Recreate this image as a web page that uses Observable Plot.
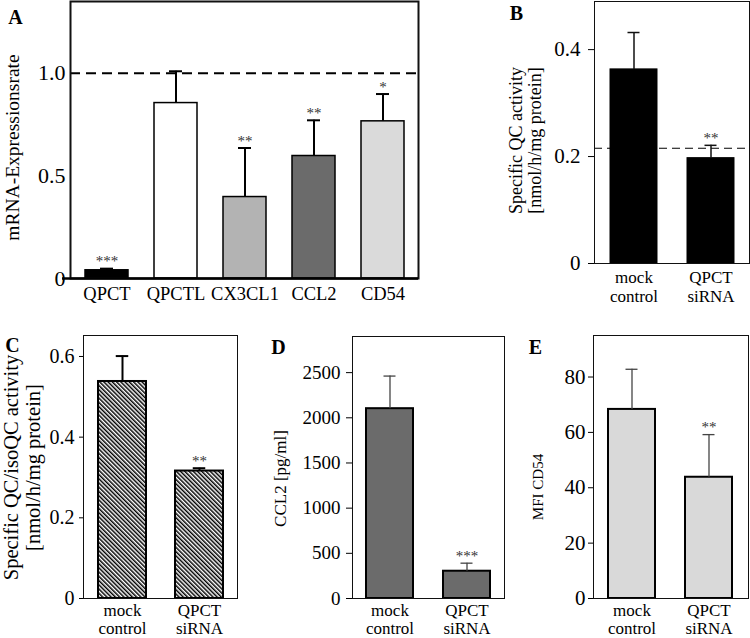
<!DOCTYPE html>
<html><head><meta charset="utf-8">
<script src="https://cdn.jsdelivr.net/npm/d3@7"></script>
<script src="https://cdn.jsdelivr.net/npm/@observablehq/plot@0.6"></script>
<style>
html,body{margin:0;padding:0;background:#fff;}
#fig{position:relative;width:750px;height:638px;overflow:hidden;background:#fff;}
#fig svg{position:absolute;}
</style></head><body><div id="fig"></div>
<script>
// ---- Panel A: mRNA expression rate ----
const aGenes = ["QPCT", "QPCTL", "CX3CL1", "CCL2", "CD54"];
const aMeans = [0.04, 0.855, 0.397, 0.597, 0.766];
const aErrors = [0.008, 0.155, 0.239, 0.174, 0.133];
const aStars = ["***", "", "**", "**", "*"];
const aColors = ["#000000", "#ffffff", "#b3b3b3", "#6b6b6b", "#dadada"];
const aTicks = [0, 0.5, 1.0];
const aTickLabels = ["0", "0.5", "1.0"];
const aReference = [1.0];

// ---- shared groups for B–E ----
const groups = ["mock control", "QPCT siRNA"];
const groupLabels = ["mock\ncontrol", "QPCT\nsiRNA"];

// ---- Panel B: specific QC activity ----
const bMeans = [0.363, 0.197];
const bErrors = [0.069, 0.024];
const bStars = ["", "**"];
const bTicks = [0, 0.2, 0.4];
const bTickLabels = ["0", "0.2", "0.4"];
const bReference = [0.2155];

// ---- Panel C: specific QC/isoQC activity ----
const cMeans = [0.538, 0.316];
const cErrors = [0.063, 0.007];
const cStars = ["", "**"];
const cTicks = [0, 0.2, 0.4, 0.6];
const cTickLabels = ["0", "0.2", "0.4", "0.6"];

// ---- Panel D: CCL2 ----
const dMeans = [2101, 302];
const dErrors = [361, 89];
const dStars = ["", "***"];
const dTicks = [0, 500, 1000, 1500, 2000, 2500];
const dTickLabels = ["0", "500", "1000", "1500", "2000", "2500"];

// ---- Panel E: MFI CD54 ----
const eMeans = [68.3, 43.8];
const eErrors = [14.5, 15.4];
const eStars = ["", "**"];
const eTicks = [0, 20, 40, 60, 80];
const eTickLabels = ["0", "20", "40", "60", "80"];

const FONT = '"Liberation Serif", "Times New Roman", serif';
const fig = document.getElementById("fig");

function panel(p) {
  const data = p.cats.map((c, i) => ({
    cat: c, mean: p.means[i], top: p.means[i] + p.errors[i], star: p.stars[i],
    fill: p.fills ? p.fills[i] : p.fill
  }));
  const svg = Plot.plot({
    width: p.width, height: p.height,
    marginLeft: p.ml, marginRight: p.mr, marginTop: p.mt, marginBottom: p.mb,
    style: {fontFamily: FONT, background: "transparent", overflow: "visible", color: "#000"},
    x: {domain: p.cats, paddingInner: p.pi, paddingOuter: p.po, axis: null},
    y: {domain: p.ydomain, axis: null},
    color: {type: "identity"},
    marks: [
      p.reference ? Plot.ruleY(p.reference, {stroke: "#000", strokeWidth: p.refWidth, strokeDasharray: p.refDash}) : null,
      Plot.barY(data, {x: "cat", y: "mean", fill: "fill", stroke: "#000", strokeWidth: p.barStroke}),
      Plot.ruleX(data, {x: "cat", y1: "mean", y2: "top", stroke: p.errColor, strokeWidth: p.errWidth}),
      Plot.tickY(data, {x: "cat", y: "top", stroke: p.errColor, strokeWidth: p.errWidth, insetLeft: p.capInset, insetRight: p.capInset}),
      Plot.text(data, {x: "cat", y: "top", text: "star", fontSize: 15, fontFamily: FONT, fill: "#333", lineAnchor: "bottom", dy: -2.5}),
      Plot.frame({stroke: "#111", strokeWidth: p.frameWidth}),
      p.baseExtend ? Plot.ruleY([0], {stroke: "#000", strokeWidth: 2.5, insetLeft: -p.baseExtend}) : null,
      Plot.axisY({ticks: p.ticks, tickFormat: d => p.tickLabels[p.ticks.indexOf(d)], tickSize: p.tickSize,
        tickPadding: p.tickPadding, fontSize: p.tickFont, fontFamily: FONT, label: null}),
      Plot.axisX({tickFormat: d => p.catLabels[p.cats.indexOf(d)], tickSize: 0, tickPadding: p.xPad,
        fontSize: p.xFont, fontFamily: FONT, lineHeight: p.xLine, label: null}),
      Plot.text([p.letter], {frameAnchor: "top-left", dx: p.letterDx, dy: p.letterDy, fontWeight: "bold",
        fontFamily: FONT, fontSize: 20, textAnchor: "middle", lineAnchor: "middle"}),
      Plot.text([p.ylabel], {frameAnchor: "left", dx: p.yDx, dy: p.yDy, rotate: -90, fontSize: p.yFont,
        fontFamily: FONT, lineHeight: p.yLine, textAnchor: "middle", lineAnchor: "middle"})
    ]
  });
  svg.style.left = p.left + "px";
  svg.style.top = p.top + "px";
  if (p.pattern) {
    const ns = "http://www.w3.org/2000/svg";
    const defs = document.createElementNS(ns, "defs");
    const pat = document.createElementNS(ns, "pattern");
    pat.setAttribute("id", p.pattern);
    pat.setAttribute("patternUnits", "userSpaceOnUse");
    pat.setAttribute("width", "3");
    pat.setAttribute("height", "3");
    pat.setAttribute("patternTransform", "rotate(-45)");
    const bg = document.createElementNS(ns, "rect");
    bg.setAttribute("width", "3"); bg.setAttribute("height", "3"); bg.setAttribute("fill", "#fff");
    const st = document.createElementNS(ns, "rect");
    st.setAttribute("width", "1.5"); st.setAttribute("height", "3"); st.setAttribute("fill", "#000");
    pat.appendChild(bg); pat.appendChild(st); defs.appendChild(pat);
    svg.insertBefore(defs, svg.firstChild);
  }
  fig.appendChild(svg);
}

// A
panel({
  left: 0, top: 0, width: 420, height: 310, ml: 70, mr: 2, mt: 1, mb: 32,
  cats: aGenes, catLabels: aGenes, means: aMeans, errors: aErrors, stars: aStars, fills: aColors,
  ydomain: [0, 1.35], pi: 0.38, po: 0.19,
  ticks: aTicks, tickLabels: aTickLabels, tickSize: 0, tickPadding: 5, tickFont: 22,
  xPad: 8, xFont: 18.5, xLine: 1,
  reference: aReference, refWidth: 2, refDash: "10,6",
  barStroke: 1.5, errColor: "#000", errWidth: 2, capInset: 15, frameWidth: 2, baseExtend: 8,
  letter: "A", letterDx: -55, letterDy: 16,
  ylabel: "mRNA-Expressionsrate", yDx: -58, yDy: 7.5, yFont: 19.5, yLine: 1
});

// B
panel({
  left: 440, top: 0, width: 310, height: 310, ml: 154, mr: 1, mt: 1, mb: 47,
  cats: groups, catLabels: groupLabels, means: bMeans, errors: bErrors, stars: bStars, fill: "#000",
  ydomain: [0, 0.49], pi: 0.39, po: 0.2,
  ticks: bTicks, tickLabels: bTickLabels, tickSize: 6, tickPadding: 8, tickFont: 21,
  xPad: 6, xFont: 17, xLine: 1.12,
  reference: bReference, refWidth: 1.2, refDash: "8,5",
  barStroke: 1, errColor: "#111", errWidth: 1.5, capInset: 17.5, frameWidth: 1,
  letter: "B", letterDx: -78, letterDy: 12,
  ylabel: "Specific QC activity\n[nmol/h/mg protein]", yDx: -69, yDy: 8, yFont: 18, yLine: 1.05
});

// C
panel({
  left: 0, top: 330, width: 245, height: 308, ml: 83, mr: 8, mt: 5, mb: 40,
  cats: groups, catLabels: groupLabels, means: cMeans, errors: cErrors, stars: cStars, fill: "url(#hatchC)",
  pattern: "hatchC",
  ydomain: [0, 0.652], pi: 0.38, po: 0.19,
  ticks: cTicks, tickLabels: cTickLabels, tickSize: 4, tickPadding: 5, tickFont: 20,
  xPad: 4, xFont: 17, xLine: 1.1,
  barStroke: 2, errColor: "#000", errWidth: 2, capInset: 17.75, frameWidth: 1,
  letter: "C", letterDx: -71, letterDy: 10,
  ylabel: "Specific QC/isoQC activity\n[nmol/h/mg protein]", yDx: -61.5, yDy: 0.5, yFont: 20.5, yLine: 1.1
});

// D
panel({
  left: 250, top: 330, width: 255, height: 308, ml: 102, mr: 1, mt: 6, mb: 40,
  cats: groups, catLabels: groupLabels, means: dMeans, errors: dErrors, stars: dStars, fill: "#6b6b6b",
  ydomain: [0, 2900], pi: 0.39, po: 0.18,
  ticks: dTicks, tickLabels: dTickLabels, tickSize: 6, tickPadding: 6, tickFont: 19,
  xPad: 4, xFont: 17, xLine: 1.1,
  barStroke: 2, errColor: "#444", errWidth: 1.3, capInset: 17.5, frameWidth: 1,
  letter: "D", letterDx: -74, letterDy: 11,
  ylabel: "CCL2 [pg/ml]", yDx: -72, yDy: 11, yFont: 17, yLine: 1
});

// E
panel({
  left: 505, top: 330, width: 245, height: 308, ml: 88, mr: 2, mt: 5, mb: 40,
  cats: groups, catLabels: groupLabels, means: eMeans, errors: eErrors, stars: eStars, fill: "#d9d9d9",
  ydomain: [0, 95], pi: 0.387, po: 0.19,
  ticks: eTicks, tickLabels: eTickLabels, tickSize: 5, tickPadding: 3, tickFont: 21,
  xPad: 4, xFont: 17, xLine: 1.1,
  barStroke: 2, errColor: "#444", errWidth: 1.3, capInset: 17.5, frameWidth: 1,
  letter: "E", letterDx: -58, letterDy: 12,
  ylabel: "MFI CD54", yDx: -55, yDy: 20, yFont: 15, yLine: 1
});
</script></body></html>
